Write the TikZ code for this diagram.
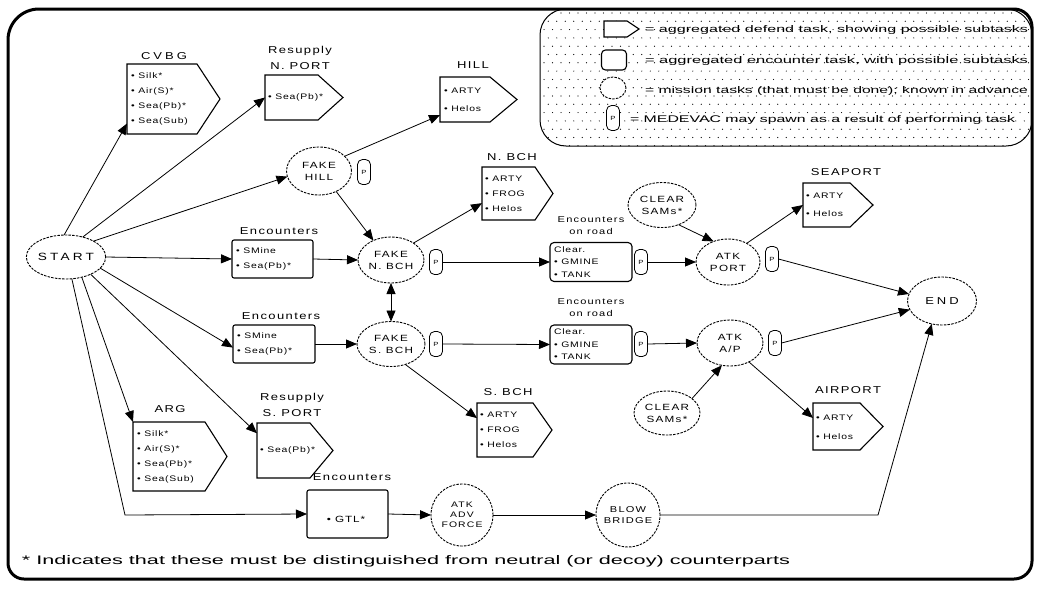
\documentclass[tikz,border=0pt]{standalone}
\usepackage{fontspec}
\setmainfont{Liberation Sans}[FakeStretch=1.3]
\newfontfamily\spfont{Liberation Sans}[FakeStretch=1.3, LetterSpace=14]
\newfontfamily\wspfont{Liberation Sans}[FakeStretch=1.3, LetterSpace=30]
\newfontfamily\itfont{Liberation Sans}[FakeStretch=1.3, LetterSpace=10]
\usetikzlibrary{arrows.meta,shapes.geometric,calc}
\tikzset{
  every node/.style={inner sep=0pt, outer sep=0pt},
  ell/.style={ellipse, draw, dash pattern=on 2.5pt off 1.2pt, line width=0.9pt, font=\spfont\fontsize{9}{12}\selectfont, align=center},
  lbl/.style={font=\spfont\fontsize{10}{16}\selectfont, align=center},
  itm/.style={font=\itfont\fontsize{8}{15}\selectfont, align=left, anchor=west},
  con/.style={line width=0.8pt, -{Triangle[length=11pt,width=9pt]}},
  pbox/.style={draw, line width=1.1pt},
  encbox/.style={draw, line width=1.1pt, rounded corners=2pt},
  roadbox/.style={draw, line width=1.1pt, rounded corners=4pt},
  medevac/.style={draw, rounded corners=5pt, minimum width=13pt, minimum height=25pt, line width=0.8pt, font=\fontsize{6}{6}\selectfont}
}
\newcommand\pentbox[6]{%
  \node[minimum width={(#4-#2)*1pt}, minimum height={(#6-#3)*1pt}, anchor=north west] (#1) at (#2,#3) {};
  \draw[pbox] (#2,#3) -- (#4,#3) -- (#5,{(#3+#6)/2}) -- (#4,#6) -- (#2,#6) -- cycle;
}
\begin{document}
\begin{tikzpicture}[x=1pt,y=-1pt]
\useasboundingbox (0,0) rectangle (1040,589);
% legend
\begin{scope}
  \clip[rounded corners=26pt] (540,9) rectangle (1032,146);
  \foreach \j in {0,...,17}{
    \foreach \i in {0,...,58}{
      \pgfmathsetmacro\xx{544+\i*8.5+mod(\j,2)*4.25}
      \pgfmathsetmacro\yy{13+\j*8.3}
      \fill (\xx,\yy) circle (0.6);
    }
  }
\end{scope}
\draw[line width=1pt, rounded corners=26pt] (540,9) rectangle (1032,146);
% legend icons
\draw[pbox, fill=white] (604,21) -- (627,21) -- (639,29) -- (627,37) -- (604,37) -- cycle;
\node[roadbox, fill=white, minimum width=25pt, minimum height=20pt] (legroad) at (614,60) {};
\node[ell, fill=white, minimum width=26pt, minimum height=22pt] (legell) at (613,88) {};
\node[medevac, fill=white] (legmed) at (613,118) {P};
\node[anchor=west] (leg1) at (645,30) {\resizebox{383pt}{7pt}{= aggregated defend task, showing possible subtasks}};
\node[anchor=west] (leg2) at (645,61) {\resizebox{383pt}{7pt}{= aggregated encounter task, with possible subtasks}};
\node[anchor=west] (leg3) at (645,91) {\resizebox{383pt}{7pt}{= mission tasks (that must be done); known in advance}};
\node[anchor=west] (leg4) at (630,120) {\resizebox{385pt}{7pt}{= MEDEVAC may spawn as a result of performing task}};
% frame
\draw[line width=3pt] (8,40) arc[start angle=180, end angle=270, radius=31] -- (1014,9)
  arc[start angle=270, end angle=360, radius=18] -- (1032,561)
  arc[start angle=0, end angle=90, radius=18] -- (24,579)
  arc[start angle=90, end angle=180, radius=16] -- cycle;

% nodes
\node[ell, minimum width=66pt, minimum height=44pt, font=\wspfont\fontsize{10.5}{12}\selectfont] (start) at (66,257) {START};

\pentbox{cvbg}{127}{64}{197}{220}{134}
\node[lbl, font=\wspfont\fontsize{10}{12}\selectfont] (cvbgl) at (164,56) {CVBG};
\node[itm] (cvbgi) at (131,99) {• Silk*\\• Air(S)*\\• Sea(Pb)*\\• Sea(Sub)};

\pentbox{nport}{265}{75}{318}{343}{120}
\node[lbl] (nportl) at (300,58) {Resupply\\N. PORT};
\node[itm] (nporti) at (268,97.5) {• Sea(Pb)*};

\pentbox{hill}{440}{77}{490}{517}{122}
\node[lbl] (hilll) at (473,65) {HILL};
\node[itm, font=\itfont\fontsize{8}{18}\selectfont] (hilli) at (444,99.5) {• ARTY\\• Helos};

\node[ell, minimum width=65pt, minimum height=48pt] (fhill) at (319,171) {FAKE\\HILL};
\node[medevac] (m1) at (364,172) {P};

\pentbox{nbch}{482}{167}{535}{553}{220}
\node[lbl] (nbchl) at (512,157) {N. BCH};
\node[itm] (nbchi) at (485,193.5) {• ARTY\\• FROG\\• Helos};

\node[ell, minimum width=66pt, minimum height=46pt] (fnbch) at (391,260) {FAKE\\N. BCH};
\node[medevac] (m2) at (436,262) {P};

\node[encbox, minimum width=81pt, minimum height=38pt] (enc1) at (272.5,259) {};
\node[lbl] (enc1l) at (279,231) {Encounters};
\node[itm] (enc1i) at (236,259) {• SMine\\• Sea(Pb)*};

\node[encbox, minimum width=82pt, minimum height=38pt] (enc2) at (274,344) {};
\node[lbl] (enc2l) at (281,316) {Encounters};
\node[itm] (enc2i) at (237,344) {• SMine\\• Sea(Pb)*};

\node[ell, minimum width=68pt, minimum height=45pt] (fsbch) at (391,344) {FAKE\\S. BCH};
\node[medevac] (m3) at (436,344) {P};

\pentbox{sbch}{477}{403}{533}{552}{457}
\node[lbl] (sbchl) at (508,392) {S. BCH};
\node[itm] (sbchi) at (480,430) {• ARTY\\• FROG\\• Helos};

\node[roadbox, minimum width=82pt, minimum height=39pt] (road1) at (591,262) {};
\node[lbl, font=\spfont\fontsize{8.5}{12}\selectfont] (road1l) at (591,226) {Encounters\\on road};
\node[itm, font=\itfont\fontsize{8}{12.5}\selectfont] (road1i) at (554,262) {Clear.\\• GMINE\\• TANK};
\node[medevac] (m4) at (641,262) {P};

\node[roadbox, minimum width=82pt, minimum height=39pt] (road2) at (591,344.5) {};
\node[lbl, font=\spfont\fontsize{8.5}{12}\selectfont] (road2l) at (591,308) {Encounters\\on road};
\node[itm, font=\itfont\fontsize{8}{12.5}\selectfont] (road2i) at (554,344.5) {Clear.\\• GMINE\\• TANK};
\node[medevac] (m5) at (641,344) {P};

\node[ell, minimum width=68pt, minimum height=45pt] (clear1) at (662,205) {CLEAR\\SAMs*};
\node[ell, minimum width=66pt, minimum height=44pt] (clear2) at (667,413) {CLEAR\\SAMs*};

\node[ell, minimum width=64pt, minimum height=46pt] (atkport) at (728,262) {ATK\\PORT};
\node[medevac] (m6) at (772,259) {P};
\node[ell, minimum width=66pt, minimum height=46pt] (atkap) at (730,343) {ATK\\A/P};
\node[medevac] (m7) at (775,343) {P};

\pentbox{seaport}{803}{183}{850}{873}{227}
\node[lbl] (seaportl) at (846,172) {SEAPORT};
\node[itm, font=\itfont\fontsize{8}{18}\selectfont] (seaporti) at (806,205) {• ARTY\\• Helos};

\pentbox{airport}{813}{403}{860}{883}{450}
\node[lbl] (airportl) at (848,390) {AIRPORT};
\node[itm, font=\itfont\fontsize{8}{19}\selectfont] (airporti) at (816,427) {• ARTY\\• Helos};

\node[ell, minimum width=69pt, minimum height=48pt, font=\wspfont\fontsize{10}{12}\selectfont] (end) at (942,301) {END};

\pentbox{arg}{133}{422}{205}{227}{491}
\node[lbl] (argl) at (170,409) {ARG};
\node[itm] (argi) at (137,457) {• Silk*\\• Air(S)*\\• Sea(Pb)*\\• Sea(Sub)};

\pentbox{sport}{257}{423}{310}{333}{478}
\node[lbl] (sportl) at (292,405) {Resupply\\S. PORT};
\node[itm] (sporti) at (260,450) {• Sea(Pb)*};

\node[encbox, minimum width=81pt, minimum height=48pt] (gtl) at (347.5,514) {};
\node[lbl] (gtll) at (352,477) {Encounters};
\node[itm, anchor=center, font=\itfont\fontsize{9}{12}\selectfont] (gtli) at (346,519) {• GTL*};

\node[ell, circle, minimum size=62pt, font=\spfont\fontsize{8}{10}\selectfont] (adv) at (462,515) {ATK\\ADV\\FORCE};
\node[ell, circle, minimum size=64pt, font=\spfont\fontsize{8.5}{11}\selectfont] (blow) at (628,515) {BLOW\\BRIDGE};

\coordinate (c1) at (125,515);
\coordinate (c2) at (878,515);

\node[anchor=west] (foot) at (22,561) {\resizebox{768pt}{9pt}{* Indicates that these must be distinguished from neutral (or decoy) counterparts}};

% connectors
\draw[con] (start.95) -- (cvbg.215);
\draw[con] (start.50) -- (nport.west);
\draw[con] (start.30) -- (fhill.190);
\draw[con] (start.east) -- (enc1.west);
\draw[con] (start.-18) -- (enc2.185);
\draw[con] (start.-35) -- (sport.147);
\draw[con] (start.-52) -- (arg.north west);
\draw[con] (start.-75) -- (c1) -- (gtl.west);

\draw[con] (fhill.30) -- (hill.212);
\draw[con] (fhill.-50) -- (fnbch.132);
\draw[con] (enc1.east) -- (fnbch.west);
\draw[con] (fnbch.37) -- (nbch.200);
\draw[con] (m2.east) -- (road1.west);
\draw[con] (m4.east) -- (atkport.west);
\draw[con] (clear1.-50) -- (atkport.125);
\draw[con] (atkport.45) -- (seaport.west);
\draw[con] (m6.east) -- (end.168);

\draw[line width=0.8pt, {Triangle[length=11pt,width=9pt]}-{Triangle[length=11pt,width=9pt]}] (fnbch.south) -- (fsbch.north);

\draw[con] (enc2.east) -- (fsbch.west);
\draw[con] (fsbch.-55) -- (sbch.157);
\draw[con] (m3.east) -- (road2.west);
\draw[con] (m5.east) -- (atkap.west);
\draw[con] (clear2.30) -- (atkap.250);
\draw[con] (atkap.-45) -- (airport.160);
\draw[con] (m7.east) -- (end.195);

\draw[con] (gtl.east) -- (adv.west);
\draw[con] (adv.east) -- (blow.west);
\draw[con] (blow.east) -- (c2) -- (end.246);
\end{tikzpicture}
\end{document}
